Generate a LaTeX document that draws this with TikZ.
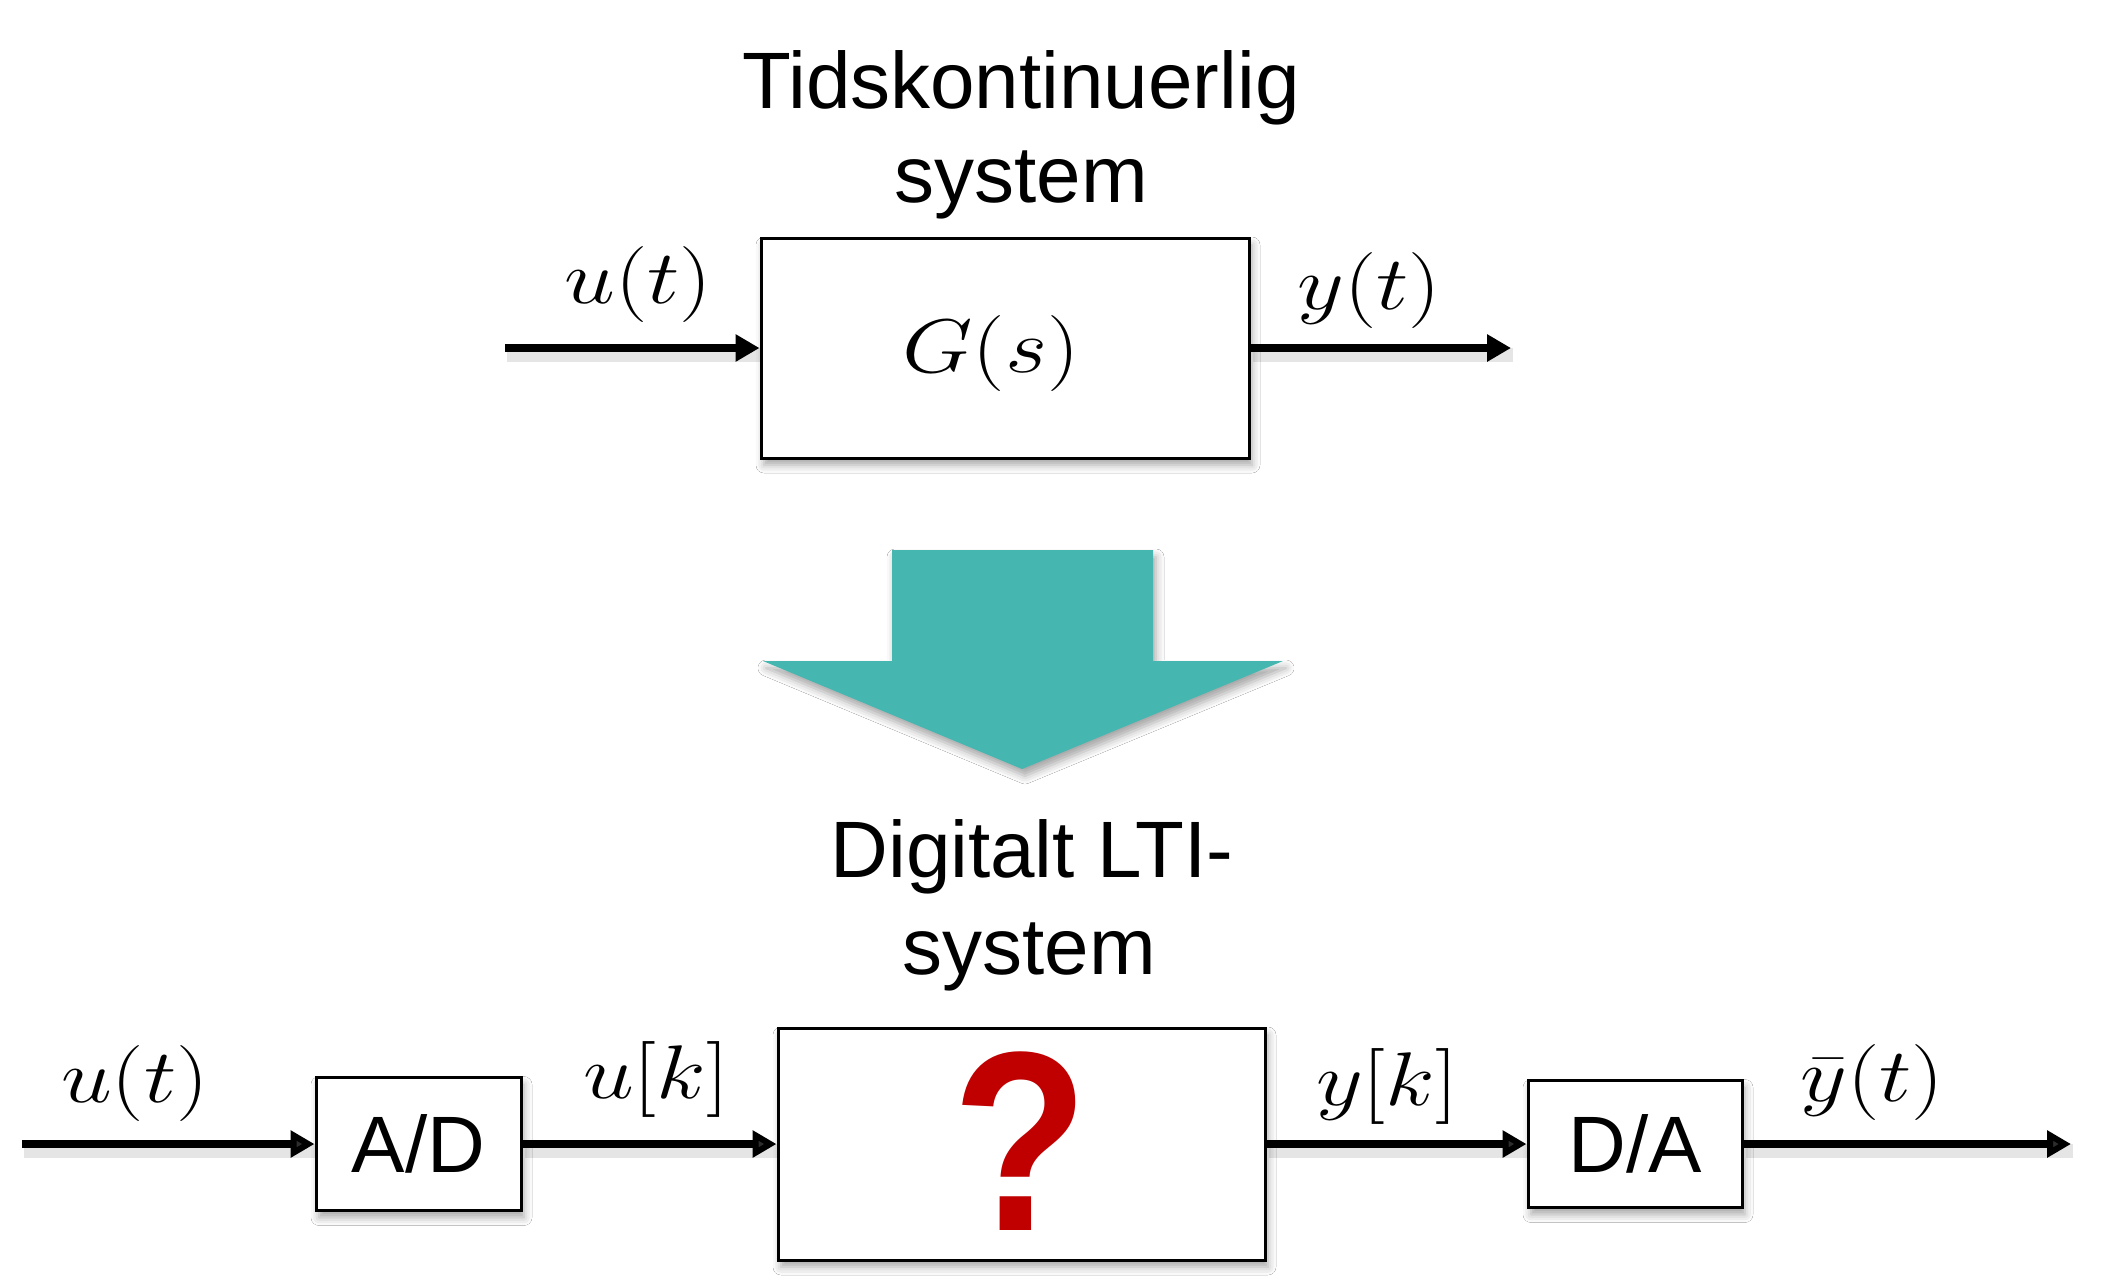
\RequirePackage{fix-cm}
\documentclass[tikz,border=0pt]{standalone}
\usepackage[no-math]{fontspec}
\setmainfont{Liberation Sans}
\usetikzlibrary{arrows.meta,shadows.blur}
\definecolor{bigarrow}{RGB}{69,182,176}
\definecolor{qred}{RGB}{192,0,0}

\begin{document}
\begin{tikzpicture}[x=0.5pt,y=-0.5pt,
  softshadow/.style={blur shadow={shadow xshift=1.5pt,shadow yshift=-3.5pt,
      shadow blur radius=4pt,shadow opacity=35}},
  block/.style={draw=black,line width=1.5pt,fill=white,inner sep=0pt,softshadow},
  sig/.style={line width=4pt,-{Triangle[length=12pt,width=13pt]},
      preaction={draw=black,opacity=0.10,line width=7pt,-,
        transform canvas={shift={(1pt,-3.5pt)}}}},
  mathlbl/.style={font=\fontsize{38}{38}\selectfont,xscale=1.2},
  heading/.style={font=\fontsize{40}{40}\selectfont,anchor=base},
  blocktext/.style={font=\fontsize{40}{40}\selectfont}]

\useasboundingbox[fill=white] (0,0) rectangle (2115,1286);

% continuous-time system
\node[heading] (t1) at (1021,108) {Tidskontinuerlig};
\node[heading] (t2) at (1021,202) {system};
\node[block,minimum width=244pt,minimum height=110pt] (gs) at (1005,348) {};
\node[mathlbl] (gslbl) at (991,353) {$G(s)$};
\coordinate (tin) at (505,348);
\coordinate (tout) at (1511,348);
\draw[sig] (tin) -- (gs.west);
\draw[sig] (gs.east) -- (tout);
\node[mathlbl] (ut1) at (638,284) {$u(t)$};
\node[mathlbl] (yt1) at (1369,290) {$y(t)$};

% transition arrow
\fill[bigarrow,softshadow] (892,550) -- (1153,550) -- (1153,661) -- (1283,661)
  -- (1022,769) -- (763,661) -- (892,661) -- cycle;

% digital chain
\node[heading] (d1) at (1032,877) {Digitalt LTI-};
\node[heading] (d2) at (1029,974) {system};
\node[block,minimum width=102.5pt,minimum height=66.5pt,blocktext] (ad) at (418.5,1144) {A/D};
\node[block,minimum width=243.5pt,minimum height=116pt] (dsys) at (1021.5,1144) {};
\node[font=\fontsize{128}{128}\selectfont\bfseries,text=qred,anchor=base,xscale=0.87] (q) at (1021,1230) {?};
\node[block,minimum width=107pt,minimum height=63.5pt,blocktext] (da) at (1635,1144) {D/A};
\coordinate (bin) at (22,1144);
\coordinate (bout) at (2071,1144);
\draw[sig] (bin) -- (ad.west);
\draw[sig] (ad.east) -- (dsys.west);
\draw[sig] (dsys.east) -- (da.west);
\draw[sig] (da.east) -- (bout);
\node[mathlbl] (ut2) at (135,1083) {$u(t)$};
\node[mathlbl] (uk) at (656,1079) {$u[k]$};
\node[mathlbl] (yk) at (1387,1086) {$y[k]$};
\node[mathlbl] (ybt) at (1872,1082) {$\bar{y}(t)$};
\end{tikzpicture}
\end{document}
